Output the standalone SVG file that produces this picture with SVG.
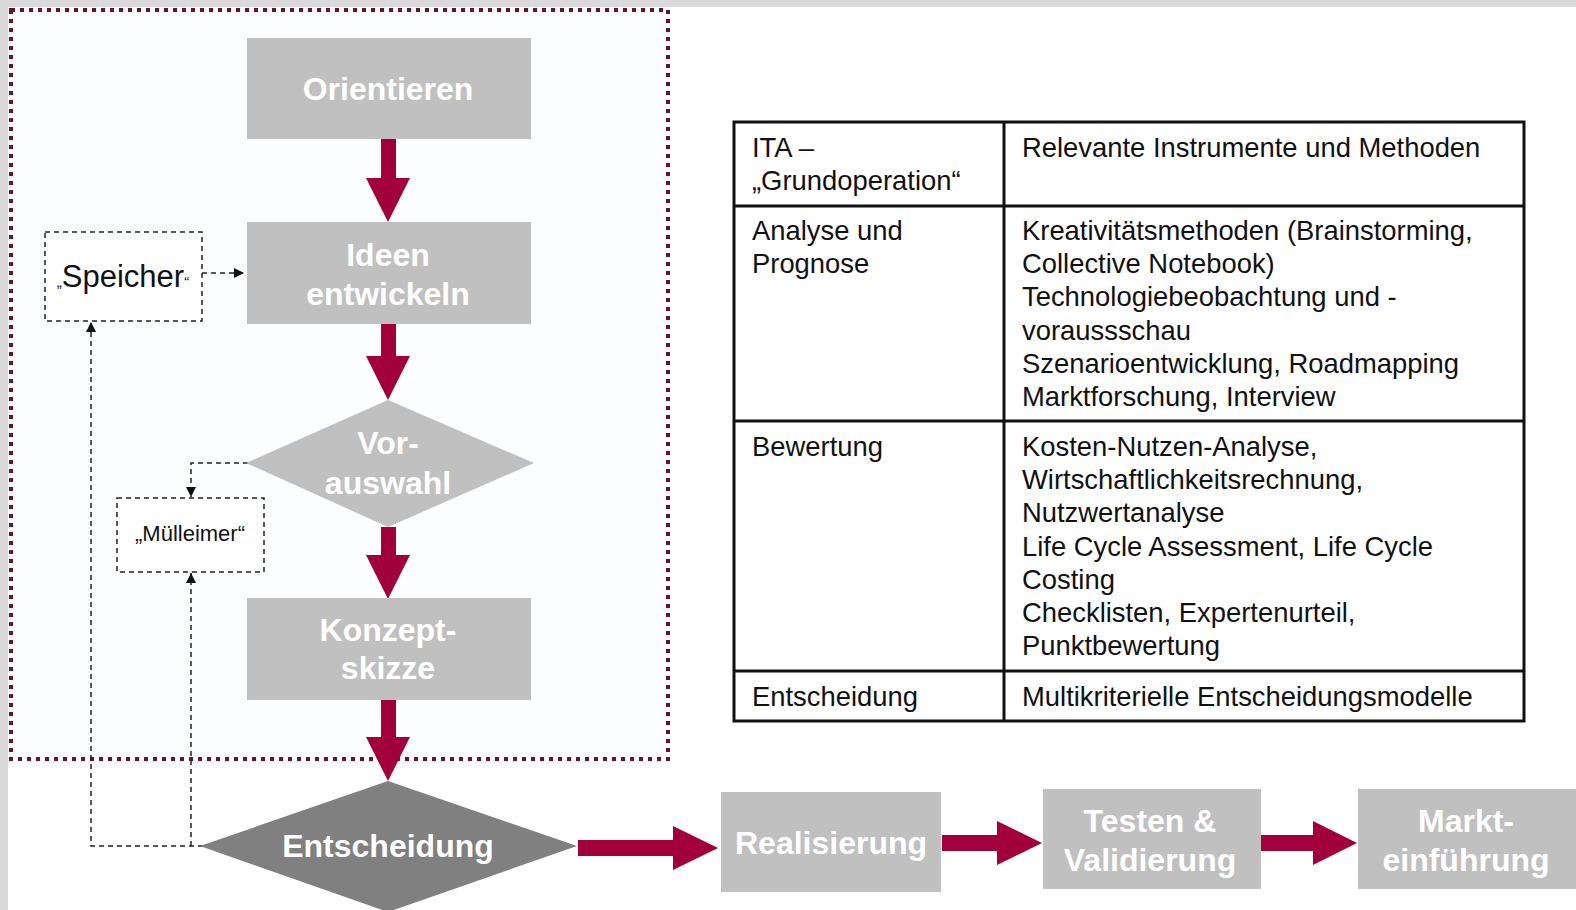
<svg xmlns="http://www.w3.org/2000/svg" width="1576" height="910" viewBox="0 0 1576 910">
<defs>
<style>
.box{fill:#c0c0c0}
.dia{fill:#c0c0c0}
.dia2{fill:#808080}
.arr{fill:#a2003a}
.lbl{font-family:"Liberation Sans",Arial,sans-serif;font-weight:bold;font-size:32px;fill:#ffffff;text-anchor:middle}
.tx{font-family:"Liberation Sans",Arial,sans-serif;font-size:27.4px;fill:#111111}
.dash{fill:none;stroke:#222222;stroke-width:1.5;stroke-dasharray:5 4}
.dbox{fill:#ffffff;stroke:#222222;stroke-width:1.5;stroke-dasharray:5 4}
.grid{stroke:#111111;stroke-width:3;fill:none}
</style>
<marker id="ah" viewBox="0 0 10 10" refX="10" refY="5" markerWidth="10" markerHeight="10" markerUnits="userSpaceOnUse" orient="auto">
<path d="M0,0 L10,5 L0,10 z" fill="#111111"/>
</marker>
</defs>
<rect x="0" y="0" width="1576" height="910" fill="#d9d9d9"/>
<rect x="8" y="7" width="1568" height="903" fill="#ffffff"/>
<rect id="frame" x="11" y="10" width="657" height="749" fill="#fcfdff" stroke="#6b1030" stroke-width="4" stroke-dasharray="4 5"/>

<g id="connectors">
<polygon class="arr" points="381,138 396,138 396,178 410,178 388,222 366,178 381,178"/>
<polygon class="arr" points="381,324 396,324 396,356 410,356 388,400 366,356 381,356"/>
<polygon class="arr" points="381,527 396,527 396,555 410,555 388,599 366,555 381,555"/>
<polygon class="arr" points="381,700 396,700 396,737 410,737 388,781 366,737 381,737"/>
<polygon class="arr" points="578,840 673,840 673,826 718,848 673,870 673,856 578,856"/>
<polygon class="arr" points="942,835 997,835 997,821 1042,843 997,865 997,851 942,851"/>
<polygon class="arr" points="1261,835 1313,835 1313,821 1357,843 1313,865 1313,851 1261,851"/>
<path class="dash" d="M202,273 L244,273" marker-end="url(#ah)"/>
<path class="dash" d="M248,463 L191,463 L191,497" marker-end="url(#ah)"/>
<path class="dash" d="M203,846 L91,846 L91,322" marker-end="url(#ah)"/>
<path class="dash" d="M191,846 L191,573" marker-end="url(#ah)"/>
</g>

<g id="orientieren">
<rect class="box" x="247" y="38" width="284" height="101"/>
<text class="lbl" x="388" y="100">Orientieren</text>
</g>
<g id="ideen">
<rect class="box" x="247" y="222" width="284" height="102"/>
<text class="lbl" x="388" y="266">Ideen</text>
<text class="lbl" x="388" y="305">entwickeln</text>
</g>
<g id="vorauswahl">
<polygon class="dia" points="388,400 534,463 388,527 246,463"/>
<text class="lbl" x="388" y="454">Vor-</text>
<text class="lbl" x="388" y="494">auswahl</text>
</g>
<g id="konzept">
<rect class="box" x="247" y="598" width="284" height="102"/>
<text class="lbl" x="388" y="641">Konzept-</text>
<text class="lbl" x="388" y="679">skizze</text>
</g>
<g id="entscheidung">
<polygon class="dia2" points="388,781 577,846 388,912 200,846"/>
<text class="lbl" x="388" y="857">Entscheidung</text>
</g>
<g id="realisierung">
<rect class="box" x="721" y="792" width="220" height="100"/>
<text class="lbl" x="831" y="854">Realisierung</text>
</g>
<g id="testen">
<rect class="box" x="1043" y="789" width="218" height="100"/>
<text class="lbl" x="1150" y="832">Testen &amp;</text>
<text class="lbl" x="1150" y="871">Validierung</text>
</g>
<g id="markt">
<rect class="box" x="1358" y="789" width="218" height="100"/>
<text class="lbl" x="1466" y="832">Markt-</text>
<text class="lbl" x="1466" y="871">einführung</text>
</g>
<g id="speicher">
<rect class="dbox" x="45" y="232" width="157" height="89"/>
<text x="123" y="287" font-family="Liberation Sans, Arial, sans-serif" font-size="31" fill="#111111" text-anchor="middle"><tspan font-size="15">„</tspan>Speicher<tspan font-size="15">“</tspan></text>
</g>
<g id="muelleimer">
<rect class="dbox" x="117" y="498" width="147" height="74"/>
<text x="190" y="541" font-family="Liberation Sans, Arial, sans-serif" font-size="22" fill="#111111" text-anchor="middle">„Mülleimer“</text>
</g>

<g id="table">
<rect x="734" y="122" width="790" height="599" fill="#ffffff"/>
<rect class="grid" x="734" y="122" width="790" height="599"/>
<line class="grid" x1="1004" y1="122" x2="1004" y2="721"/>
<line class="grid" x1="734" y1="206" x2="1524" y2="206"/>
<line class="grid" x1="734" y1="421" x2="1524" y2="421"/>
<line class="grid" x1="734" y1="671" x2="1524" y2="671"/>
<text class="tx" x="752" y="157">ITA –</text>
<text class="tx" x="752" y="190">„Grundoperation“</text>
<text class="tx" x="1022" y="157">Relevante Instrumente und Methoden</text>
<text class="tx" x="752" y="240">Analyse und</text>
<text class="tx" x="752" y="273">Prognose</text>
<text class="tx" x="1022" y="240">Kreativitätsmethoden (Brainstorming,</text>
<text class="tx" x="1022" y="273">Collective Notebook)</text>
<text class="tx" x="1022" y="306">Technologiebeobachtung und -</text>
<text class="tx" x="1022" y="340">voraussschau</text>
<text class="tx" x="1022" y="373">Szenarioentwicklung, Roadmapping</text>
<text class="tx" x="1022" y="406">Marktforschung, Interview</text>
<text class="tx" x="752" y="456">Bewertung</text>
<text class="tx" x="1022" y="456">Kosten-Nutzen-Analyse,</text>
<text class="tx" x="1022" y="489">Wirtschaftlichkeitsrechnung,</text>
<text class="tx" x="1022" y="522">Nutzwertanalyse</text>
<text class="tx" x="1022" y="556">Life Cycle Assessment, Life Cycle</text>
<text class="tx" x="1022" y="589">Costing</text>
<text class="tx" x="1022" y="622">Checklisten, Expertenurteil,</text>
<text class="tx" x="1022" y="655">Punktbewertung</text>
<text class="tx" x="752" y="706">Entscheidung</text>
<text class="tx" x="1022" y="706">Multikriterielle Entscheidungsmodelle</text>
</g>
</svg>
